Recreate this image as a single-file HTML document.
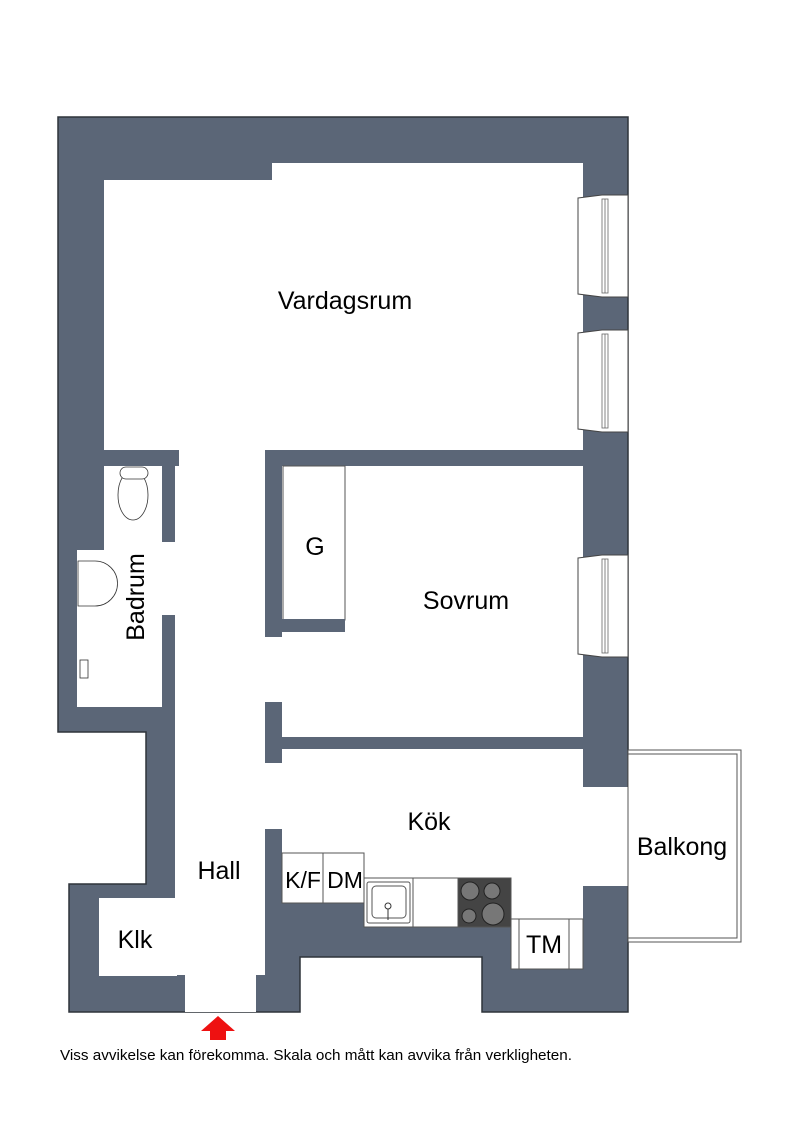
<!DOCTYPE html>
<html><head><meta charset="utf-8"><style>
html,body{margin:0;padding:0;background:#fff;}
svg{display:block;font-family:"Liberation Sans",Arial,sans-serif;}
</style></head><body>
<svg width="800" height="1131" viewBox="0 0 800 1131" xmlns="http://www.w3.org/2000/svg">
<rect width="800" height="1131" fill="#fff"/>
<polygon points="58,117 628,117 628,1012 482,1012 482,957 300,957 300,1012 69,1012 69,884 146,884 146,732 58,732" fill="#5b6677" stroke="#2e333a" stroke-width="1.5"/>
<g fill="#fff">
<rect x="104" y="180" width="479" height="270"/>
<rect x="272" y="163" width="311" height="20"/>
<rect x="179" y="449" width="86" height="20"/>
<rect x="175" y="466" width="90" height="509"/>
<rect x="185" y="970" width="71" height="42"/>
<rect x="104" y="466" width="58" height="86"/>
<rect x="77" y="550" width="85" height="157"/>
<rect x="158" y="542" width="20" height="73"/>
<rect x="99" y="898" width="78" height="78"/>
<rect x="164" y="905" width="14" height="58"/>
<rect x="263" y="637" width="22" height="65"/>
<rect x="263" y="763" width="22" height="66"/>
<rect x="282" y="466" width="301" height="271"/>
<rect x="282" y="749" width="301" height="105"/>
<rect x="364" y="750" width="219" height="129"/>
<rect x="511" y="750" width="72" height="169"/>
<rect x="580" y="787" width="48" height="99"/>
</g>
<rect x="283" y="466" width="62" height="154" fill="#fff" stroke="#555" stroke-width="1"/>
<rect x="265" y="619" width="80" height="13" fill="#5b6677"/>
<g fill="#fff" stroke="#444" stroke-width="1">
<polygon points="578,198 602,195 628,195 628,297 602,297 578,294"/>
<polygon points="578,333 602,330 628,330 628,432 602,432 578,429"/>
<polygon points="578,558 602,555 628,555 628,657 602,657 578,654"/>
</g>
<g stroke="#666" stroke-width="0.8" fill="none">
<rect x="602" y="199" width="6" height="94"/><line x1="605" y1="199" x2="605" y2="293"/>
<rect x="602" y="334" width="6" height="94"/><line x1="605" y1="334" x2="605" y2="428"/>
<rect x="602" y="559" width="6" height="94"/><line x1="605" y1="559" x2="605" y2="653"/>
</g>
<rect x="628" y="750" width="113" height="192" fill="#fff" stroke="#555" stroke-width="1"/>
<rect x="628" y="754" width="109" height="184" fill="none" stroke="#555" stroke-width="1"/>
<g stroke="#555" stroke-width="1" fill="#fff">
<rect x="282" y="853" width="41" height="50"/>
<rect x="323" y="853" width="41" height="50"/>
<rect x="364" y="878" width="49" height="49"/>
<rect x="367" y="882" width="43" height="41" rx="2"/>
<rect x="372" y="886" width="34" height="32" rx="4"/>
<rect x="413" y="878" width="45" height="49"/>
<rect x="458" y="878" width="53" height="49" fill="#444"/>
<rect x="511" y="919" width="72" height="50"/>
<line x1="519" y1="919" x2="519" y2="969"/>
<line x1="569" y1="919" x2="569" y2="969"/>
</g>
<g fill="#777" stroke="#222" stroke-width="1">
<circle cx="470" cy="891" r="9"/><circle cx="492" cy="891" r="8"/>
<circle cx="469" cy="916" r="7"/><circle cx="493" cy="914" r="11"/>
</g>
<circle cx="388" cy="906" r="3" fill="none" stroke="#333"/>
<line x1="388" y1="909" x2="388" y2="920" stroke="#333"/>
<g fill="#fff" stroke="#333" stroke-width="0.8">
<ellipse cx="133" cy="495" rx="15" ry="25"/>
<rect x="120" y="467" width="28" height="12" rx="6"/>
<path d="M78,561 L95,561 A18,18 0 0 1 95,606 L78,606 Z"/>
<rect x="80" y="660" width="8" height="18"/>
</g>
<g fill="#000" font-size="25">
<text x="345" y="309" text-anchor="middle">Vardagsrum</text>
<text x="466" y="609" text-anchor="middle">Sovrum</text>
<text x="315" y="555" text-anchor="middle">G</text>
<text x="429" y="830" text-anchor="middle">Kök</text>
<text x="682" y="855" text-anchor="middle">Balkong</text>
<text x="219" y="879" text-anchor="middle">Hall</text>
<text x="135" y="948" text-anchor="middle">Klk</text>
<text x="544" y="953" text-anchor="middle">TM</text>
<text x="303" y="888" text-anchor="middle" font-size="23">K/F</text>
<text x="345" y="888" text-anchor="middle" font-size="23">DM</text>
<text transform="translate(144,597) rotate(-90)" text-anchor="middle">Badrum</text>
</g>
<polygon points="218,1016 235,1031 226,1031 226,1040 210,1040 210,1031 201,1031" fill="#ee1111"/>
<text x="60" y="1060" font-size="14.6" fill="#000" textLength="512" lengthAdjust="spacingAndGlyphs">Viss avvikelse kan förekomma. Skala och mått kan avvika från verkligheten.</text>
</svg>
</body></html>
